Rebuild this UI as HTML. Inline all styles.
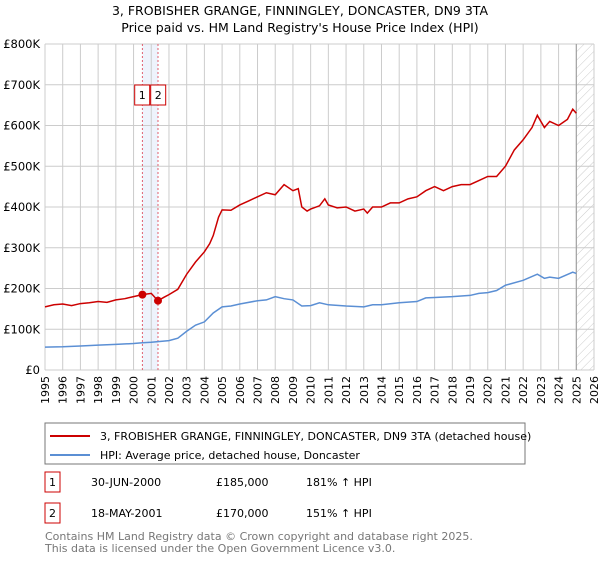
<!DOCTYPE html>
<html><head><meta charset="utf-8"><style>
body{margin:0;background:#fff;font-family:"Liberation Sans","DejaVu Sans",sans-serif;}
svg text{font-family:"DejaVu Sans","Liberation Sans",sans-serif;}
</style></head><body>
<svg id="chart" width="600" height="560" viewBox="0 0 600 560">
<defs><pattern id="hatch" width="6" height="6" patternUnits="userSpaceOnUse" patternTransform="rotate(45)"><line x1="0" y1="0" x2="0" y2="6" stroke="#ccc" stroke-width="1"/></pattern></defs>
<text x="300" y="15" text-anchor="middle" font-size="12.5">3, FROBISHER GRANGE, FINNINGLEY, DONCASTER, DN9 3TA</text>
<text x="300" y="32" text-anchor="middle" font-size="12.5">Price paid vs. HM Land Registry's House Price Index (HPI)</text>
<g id="grid"></g><g id="marks"></g><g id="axes"></g>
<rect x="45" y="423" width="480" height="41" fill="#fff" stroke="#777"/>
<line x1="50" y1="436" x2="90" y2="436" stroke="#cc0000" stroke-width="2"/>
<text x="100" y="440" font-size="11">3, FROBISHER GRANGE, FINNINGLEY, DONCASTER, DN9 3TA (detached house)</text>
<line x1="50" y1="455" x2="90" y2="455" stroke="#5b8fd4" stroke-width="2"/>
<text x="100" y="459" font-size="11">HPI: Average price, detached house, Doncaster</text>
<g>
<rect x="45" y="472" width="15" height="20" fill="none" stroke="#cc0000"/><text x="52.5" y="486" text-anchor="middle" font-size="11">1</text>
<text x="91" y="486" font-size="11">30-JUN-2000</text><text x="216" y="486" font-size="11">£185,000</text><text x="306" y="486" font-size="11">181% ↑ HPI</text></g>
<g>
<rect x="45" y="503" width="15" height="20" fill="none" stroke="#cc0000"/><text x="52.5" y="517" text-anchor="middle" font-size="11">2</text>
<text x="91" y="517" font-size="11">18-MAY-2001</text><text x="216" y="517" font-size="11">£170,000</text><text x="306" y="517" font-size="11">151% ↑ HPI</text></g>
<text x="45" y="540" font-size="11" fill="#777">Contains HM Land Registry data © Crown copyright and database right 2025.</text>
<text x="45" y="552" font-size="11" fill="#777">This data is licensed under the Open Government Licence v3.0.</text>
</svg>
<script>
const yearTicks=[1995,1996,1997,1998,1999,2000,2001,2002,2003,2004,2005,2006,2007,2008,2009,2010,2011,2012,2013,2014,2015,2016,2017,2018,2019,2020,2021,2022,2023,2024,2025,2026];
const priceTicks=[0,100,200,300,400,500,600,700,800];
const priceLabels=["£0","£100K","£200K","£300K","£400K","£500K","£600K","£700K","£800K"];
const redT=[1995,1995.5,1996,1996.5,1997,1997.5,1998,1998.5,1999,1999.5,2000,2000.5,2001,2001.38,2001.7,2002,2002.5,2003,2003.5,2004,2004.3,2004.5,2004.8,2005,2005.5,2006,2006.5,2007,2007.5,2008,2008.5,2009,2009.3,2009.5,2009.8,2010,2010.5,2010.8,2011,2011.5,2012,2012.5,2013,2013.2,2013.5,2014,2014.5,2015,2015.5,2016,2016.5,2017,2017.5,2018,2018.5,2019,2019.5,2020,2020.5,2021,2021.5,2022,2022.5,2022.8,2023.2,2023.5,2024,2024.5,2024.8,2025];
const redV=[155,160,162,158,163,165,168,166,172,175,180,185,188,170,178,185,198,235,265,290,310,330,375,393,392,405,415,425,435,430,455,440,445,400,390,395,403,420,405,398,400,390,395,385,400,400,410,410,420,425,440,450,440,450,455,455,465,475,475,500,540,565,595,625,595,610,600,615,640,630];
const blueT=[1995,1996,1997,1998,1999,2000,2000.5,2001,2002,2002.5,2003,2003.5,2004,2004.5,2005,2005.5,2006,2007,2007.5,2008,2008.5,2009,2009.5,2010,2010.5,2011,2012,2013,2013.5,2014,2015,2016,2016.5,2017,2018,2019,2019.5,2020,2020.5,2021,2022,2022.8,2023.2,2023.5,2024,2024.8,2025];
const blueV=[56,57,59,61,63,65,67,68,72,78,95,110,118,140,155,157,162,170,172,180,175,172,157,158,165,160,157,155,160,160,165,168,177,178,180,183,188,190,195,208,220,235,225,228,225,240,237];
const saleT=[2000.5,2001.38];
const saleV=[185,170];
const saleLabels=["1","2"];
const X0=45,X1=594,Y0=370,Y1=44;
const x=t=>X0+(t-1995)/(2026-1995)*(X1-X0);
const y=v=>Y0-v/800*(Y0-Y1);
const NS="http://www.w3.org/2000/svg";
function mk(p,tag,a){const e=document.createElementNS(NS,tag);for(const k in a)e.setAttribute(k,a[k]);p.appendChild(e);return e;}
const grid=document.getElementById('grid'),marks=document.getElementById('marks'),axes=document.getElementById('axes');
mk(grid,'rect',{x:x(2025),y:Y1,width:X1-x(2025),height:Y0-Y1,fill:'url(#hatch)'});
mk(grid,'rect',{x:x(saleT[0]),y:Y1,width:x(saleT[1])-x(saleT[0]),height:Y0-Y1,fill:'#eef3fc'});
yearTicks.forEach(t=>{const l=mk(grid,'line',{x1:x(t),x2:x(t),y1:Y1,y2:Y0,stroke:'#ccc'});
const tx=mk(axes,'text',{x:0,y:0,'font-size':11,'text-anchor':'end',transform:`translate(${x(t)+4},${Y0+6}) rotate(-90)`});tx.textContent=t;});
priceTicks.forEach((v,i)=>{const l=mk(grid,'line',{x1:X0,x2:X1,y1:y(v),y2:y(v),stroke:'#ccc'});
const tx=mk(axes,'text',{x:X0-5,y:y(v)+4,'font-size':11.5,'text-anchor':'end'});tx.textContent=priceLabels[i];});
mk(grid,'line',{x1:x(2025),x2:x(2025),y1:Y1,y2:Y0,stroke:'#999'});
const mid=(x(saleT[0])+x(saleT[1]))/2;
saleT.forEach((t,i)=>{const l=mk(grid,'line',{x1:x(t),x2:x(t),y1:Y1,y2:Y0,stroke:'#e06070','stroke-dasharray':'2,2'});
const g=mk(marks,'g',{});
const bx=mid+(i==0?-8:8);mk(g,'rect',{x:bx-7.5,y:85,width:15,height:20,fill:'#fff',stroke:'#cc0000'});const tt=mk(g,'text',{x:bx,y:99,'font-size':11,'text-anchor':'middle'});tt.textContent=saleLabels[i];});
const pb=mk(marks,'polyline',{points:blueT.map((t,i)=>x(t)+','+y(blueV[i])).join(' '),fill:'none',stroke:'#5b8fd4','stroke-width':1.5});

const pr=mk(marks,'polyline',{points:redT.map((t,i)=>x(t)+','+y(redV[i])).join(' '),fill:'none',stroke:'#cc0000','stroke-width':1.5});

saleT.forEach((t,i)=>{const c=mk(marks,'circle',{cx:x(t),cy:y(saleV[i]),r:4,fill:'#cc0000'});});
</script>
</body></html>
